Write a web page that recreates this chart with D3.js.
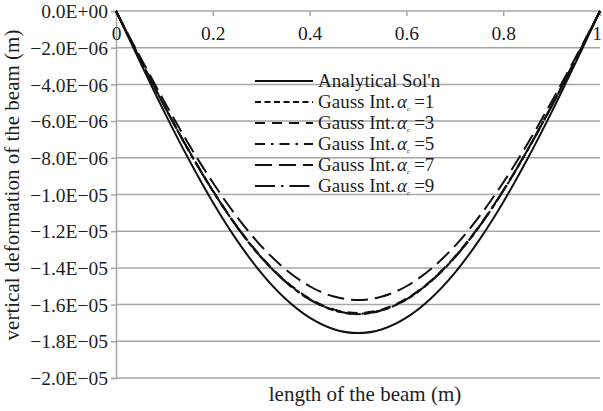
<!DOCTYPE html>
<html>
<head>
<meta charset="utf-8">
<script src="https://cdn.jsdelivr.net/npm/d3@7"></script>
<style>
  html, body { margin: 0; padding: 0; background: #fff; }
  svg { display: block; }
  svg text { font-family: "Liberation Serif", "Times New Roman", Times, serif; }
</style>
</head>
<body>
<svg id="chart" width="603" height="411"></svg>
<script>
// Positions along the beam (normalised length)
const positions = [0, 0.05, 0.1, 0.15, 0.2, 0.25, 0.3, 0.35, 0.4, 0.45, 0.5,
                   0.55, 0.6, 0.65, 0.7, 0.75, 0.8, 0.85, 0.9, 0.95, 1];

// Vertical deflection in units of 1e-6 m
const analytical = [0, -2.79, -5.51, -8.07, -10.42, -12.50, -14.27, -15.68, -16.71, -17.34, -17.55,
                    -17.34, -16.71, -15.68, -14.27, -12.50, -10.42, -8.07, -5.51, -2.79, 0];
const gauss1 = [0, -2.63, -5.18, -7.60, -9.81, -11.77, -13.43, -14.75, -15.72, -16.31, -16.52,
                -16.31, -15.72, -14.75, -13.43, -11.77, -9.81, -7.60, -5.18, -2.63, 0];
const gauss3 = [0, -2.62, -5.17, -7.58, -9.78, -11.74, -13.39, -14.71, -15.67, -16.26, -16.46,
                -16.26, -15.67, -14.71, -13.39, -11.74, -9.78, -7.58, -5.17, -2.62, 0];
const gauss5 = [0, -2.63, -5.18, -7.59, -9.80, -11.76, -13.42, -14.74, -15.71, -16.30, -16.50,
                -16.30, -15.71, -14.74, -13.42, -11.76, -9.80, -7.59, -5.18, -2.63, 0];
const gauss7 = [0, -2.51, -4.94, -7.25, -9.35, -11.22, -12.81, -14.07, -15.00, -15.56, -15.75,
                -15.56, -15.00, -14.07, -12.81, -11.22, -9.35, -7.25, -4.94, -2.51, 0];
const gauss9 = [0, -2.63, -5.18, -7.59, -9.80, -11.76, -13.42, -14.74, -15.71, -16.30, -16.50,
                -16.30, -15.71, -14.74, -13.42, -11.76, -9.80, -7.59, -5.18, -2.63, 0];

const seriesNames = ["Analytical Sol'n", "Gauss Int.", "Gauss Int.", "Gauss Int.", "Gauss Int.", "Gauss Int."];
const alphaValues = [null, 1, 3, 5, 7, 9];
const seriesValues = [analytical, gauss1, gauss3, gauss5, gauss7, gauss9];
const dashes = [null, "6,3.5", "10,7", "10,6,2.5,6", "17,7", "20,6,2.5,6"];

const xTicks = [0, 0.2, 0.4, 0.6, 0.8, 1];
const xTickLabels = ["0", "0.2", "0.4", "0.6", "0.8", "1"];
const yTicks = [0, -2, -4, -6, -8, -10, -12, -14, -16, -18, -20];
const yTickLabels = ["0.0E+00", "−2.0E−06", "−4.0E−06", "−6.0E−06", "−8.0E−06", "−1.0E−05",
                     "−1.2E−05", "−1.4E−05", "−1.6E−05", "−1.8E−05", "−2.0E−05"];

const svg = d3.select("#chart");
const plotLeft = 116, plotRight = 600, plotTop = 11, plotBottom = 378;
const serif = "'Liberation Serif', 'Times New Roman', Times, serif";

const x = d3.scaleLinear().domain([0, 1]).range([plotLeft, plotRight]);
const y = d3.scaleLinear().domain([0, -20]).range([plotTop, plotBottom]);

const gridColor = "#a6a6a6";
const inkColor = "#1e1e1e";

// Horizontal gridlines
svg.append("g").selectAll("line").data(yTicks).join("line")
  .attr("x1", plotLeft).attr("x2", plotRight)
  .attr("y1", d => y(d)).attr("y2", d => y(d))
  .attr("stroke", gridColor).attr("stroke-width", 1.5);

// Vertical axis line with outward ticks
const yAxis = d3.axisLeft(y).tickValues(yTicks).tickSize(5).tickPadding(3)
  .tickFormat((d, i) => yTickLabels[i]);
const gy = svg.append("g").attr("transform", `translate(${plotLeft},0)`).call(yAxis)
  .attr("font-family", null).attr("font-size", null);
gy.select(".domain").attr("stroke", gridColor).attr("stroke-width", 1.5);
gy.selectAll(".tick line").attr("stroke", gridColor).attr("stroke-width", 1.5);
gy.selectAll(".tick text").style("font-family", serif).style("font-size", "19.5px")
  .attr("fill", inkColor).attr("dy", "0.34em");

// Top axis: ticks point down into the plot, labels sit beneath
const xAxis = d3.axisBottom(x).tickValues(xTicks).tickSize(5).tickPadding(10)
  .tickFormat((d, i) => xTickLabels[i]);
const gx = svg.append("g").attr("transform", `translate(0,${plotTop})`).call(xAxis)
  .attr("font-family", null).attr("font-size", null);
gx.select(".domain").remove();
gx.selectAll(".tick line").attr("stroke", gridColor).attr("stroke-width", 1.5);
gx.selectAll(".tick text").style("font-family", serif).style("font-size", "19.5px").attr("fill", inkColor)
  .attr("dx", (d, i) => i === xTicks.length - 1 ? -3.5 : 0);

// Deflection curves
const line = d3.line().x((d, i) => x(positions[i])).y(d => y(d)).curve(d3.curveMonotoneX);
svg.append("g").selectAll("path").data(seriesValues).join("path")
  .attr("d", d => line(d))
  .attr("fill", "none")
  .attr("stroke", "#111")
  .attr("stroke-width", 2)
  .attr("stroke-dasharray", (d, i) => dashes[i]);

// Legend
const legend = svg.append("g");
const legendY0 = 81, legendStep = 21;
seriesNames.forEach((name, i) => {
  const ly = legendY0 + i * legendStep;
  legend.append("line")
    .attr("x1", 255).attr("x2", 313).attr("y1", ly).attr("y2", ly)
    .attr("stroke", "#111").attr("stroke-width", 2.2)
    .attr("stroke-dasharray", dashes[i]);
  const t = legend.append("text").attr("x", 318).attr("y", ly + 6)
    .style("font-family", serif).style("font-size", "19px").attr("fill", inkColor);
  t.append("tspan").text(name);
  if (alphaValues[i] !== null) {
    t.append("tspan").attr("font-style", "italic").attr("dx", 2).text("α");
    t.append("tspan").style("font-size", "7px").attr("font-style", "italic").attr("dy", 3).text("c");
    t.append("tspan").attr("dy", -3).attr("dx", 4).text("=" + alphaValues[i]);
  }
});

// Axis titles
svg.append("text").attr("x", 365).attr("y", 401)
  .attr("text-anchor", "middle").style("font-family", serif).style("font-size", "21px").attr("fill", inkColor)
  .text("length of the beam (m)");
svg.append("text")
  .attr("transform", `translate(19,185) rotate(-90)`)
  .attr("text-anchor", "middle").style("font-family", serif).style("font-size", "21px").attr("fill", inkColor)
  .text("vertical deformation of the beam (m)");
</script>
</body>
</html>
